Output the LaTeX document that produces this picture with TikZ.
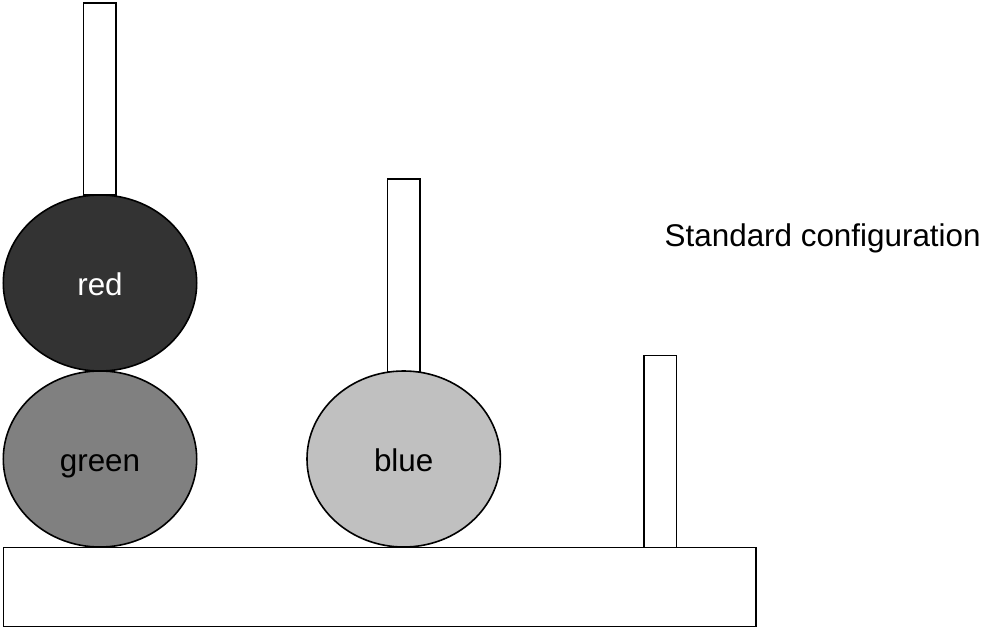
\documentclass[tikz,border=0pt]{standalone}
\usepackage{fontspec}
\setmainfont{Liberation Sans}
\usetikzlibrary{shapes.geometric}
\definecolor{redfill}{HTML}{333333}
\definecolor{greenfill}{HTML}{808080}
\definecolor{bluefill}{HTML}{C0C0C0}
\begin{document}
\begin{tikzpicture}[x=1pt,y=-1pt,
  outl/.style={draw=black,line width=1.6pt},
  peg/.style={outl,fill=white},
  disc/.style={outl,ellipse,inner sep=0pt,minimum width=193.4pt,minimum height=176pt,
    font=\fontsize{31.4}{37}\selectfont,text height=31pt,text depth=6pt},
  lbl/.style={font=\fontsize{31.4}{37}\selectfont,inner sep=0pt}]
\useasboundingbox (0,0) rectangle (985,628);
\draw[peg] (83.3,3.3) rectangle (115.7,195) coordinate (p1);
\draw[peg] (387.3,179) rectangle (420,371.7) coordinate (p2);
\draw[peg] (643.7,355.3) rectangle (676.3,547.7) coordinate (p3);
\node[disc,fill=redfill,text=white] (red) at (100,283) {red};
\node[disc,fill=greenfill] (green) at (100,459) {green};
\node[disc,fill=bluefill] (blue) at (403.7,459) {blue};
\draw[peg] (3.5,547.5) rectangle (756,626.5) coordinate (base);
\node[lbl,anchor=base west] (cap) at (664.5,246.7) {Standard configuration};
\end{tikzpicture}
\end{document}
